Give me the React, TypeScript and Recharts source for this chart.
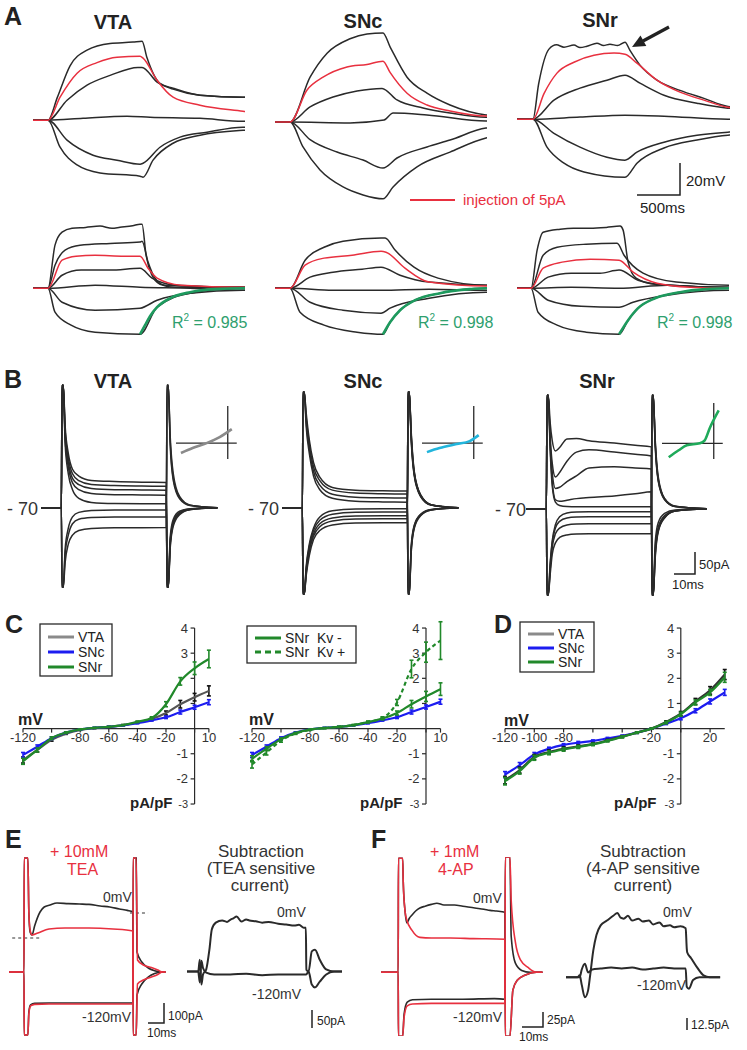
import React from 'react'
import { LineChart, Line, XAxis, YAxis, ReferenceLine, ReferenceDot, ErrorBar } from 'recharts'

const FONT = '"Liberation Sans", Arial, Helvetica, sans-serif'
const INK = '#2a2a2a'
const RED = '#e8303f'
const FIT = '#1e9a5e'
const FIT_TXT = '#2ea06e'
const BLUE = '#1c1cf0'
const GREEN = '#21892a'
const GREY = '#8a8a8a'
const VTA_LINE = '#555'

type Pair = [number, number]
const pts = (a: Pair[]) => a.map(([t, v]) => ({ t, v }))
const zip = (ts: number[], vs: number[]) => ts.map((t, i) => ({ t, v: vs[i] }))

// ---------- A: voltage responses (ms, mV from rest) ----------
const aVta1: Pair[] = [[-160,0],[0,0],[100,14.4],[234,34],[415,43.8],[660,48],[904,48.8],[1000,49.4],[1053,39],[1191,23],[1330,20],[1617,15.6],[2074,14.4],[2100,14.4]]
const aVtaRed: Pair[] = [[-160,0],[0,0],[128,14.4],[309,29.4],[521,36],[734,39.4],[979,40],[1011,38.8],[1160,25],[1330,14.4],[1617,9.4],[2074,5.6],[2100,5.4]]
const aVta3: Pair[] = [[-160,0],[0,0],[202,12.5],[415,21.9],[660,28],[957,33],[1000,33],[1160,23.8],[1330,19.4],[1617,15.6],[2074,14.4],[2100,14.4]]
const aVta4: Pair[] = [[-160,0],[0,0],[372,1.2],[840,2.5],[1085,1.9],[1617,1.2],[2074,-0.6],[2100,-0.6]]
const aVta5: Pair[] = [[-160,0],[0,0],[202,-12.5],[479,-21.9],[734,-25],[979,-27.5],[1011,-26.9],[1191,-16.9],[1404,-10.6],[1691,-7.5],[2074,-4.4],[2100,-4.4]]
const aVta6: Pair[] = [[-160,0],[0,0],[128,-16.9],[309,-28],[553,-33],[979,-35],[1011,-35.6],[1117,-25],[1330,-14.4],[1617,-9.4],[2074,-6.3],[2100,-6.2]]

const aSnc1: Pair[] = [[-160,0],[0,0],[213,28],[394,43],[638,52],[819,55],[989,55.6],[1064,47],[1245,28],[1457,18],[1702,10.6],[2085,4.4],[2100,4.3]]
const aSncRed: Pair[] = [[-160,0],[0,0],[181,20],[351,28],[606,34.4],[819,36],[989,38],[1064,31],[1245,18],[1457,10.6],[1702,6.9],[2085,3.8],[2100,3.8]]
const aSnc3: Pair[] = [[-160,0],[0,0],[213,9.4],[457,15.6],[713,19.4],[979,21],[1138,13.8],[1415,8.8],[1702,5.6],[2085,3],[2100,3]]
const aSnc4: Pair[] = [[-160,0],[0,0],[638,-0.6],[1000,1.2],[1096,5.6],[1457,4.4],[2085,0.6],[2100,0.6]]
const aSnc5: Pair[] = [[-160,0],[0,0],[213,-11],[500,-18.8],[777,-23.8],[989,-28.8],[1138,-22.5],[1457,-15.6],[1702,-11.3],[2085,-3.8],[2100,-3.7]]
const aSnc6: Pair[] = [[-160,0],[0,0],[138,-15.6],[319,-30],[564,-40.6],[777,-45.6],[989,-48],[1096,-40.6],[1351,-28],[1702,-18.8],[2085,-10],[2100,-9.8]]

const aSnr1: Pair[] = [[-170,0],[0,0],[60,22],[170,43.8],[250,46.5],[330,45],[436,46.3],[500,44.8],[574,45.6],[681,47.5],[750,46],[819,46.9],[900,46],[979,48.1],[1032,43],[1138,33.8],[1319,24.4],[1564,18],[1819,13],[2074,8],[2100,7.8]]
const aSnrRed: Pair[] = [[-170,0],[0,0],[117,16],[255,28.8],[436,35.6],[649,40],[862,41.3],[979,40.6],[1106,35],[1319,24.4],[1564,16.9],[1819,11.9],[2074,7.5],[2100,7.3]]
const aSnr3: Pair[] = [[-170,0],[0,0],[223,11.9],[500,19.4],[787,24.4],[979,27.5],[1138,22.5],[1394,15],[1745,10],[2074,6.9],[2100,6.8]]
const aSnr4: Pair[] = [[-170,0],[0,0],[500,1.3],[979,2.5],[1394,1.9],[2074,0],[2100,0]]
const aSnr5: Pair[] = [[-170,0],[0,0],[223,-8.8],[500,-17.5],[787,-23.8],[979,-25.6],[1106,-20.6],[1394,-14.4],[1745,-10],[2074,-8.1],[2100,-8]]
const aSnr6: Pair[] = [[-170,0],[0,0],[149,-17.5],[330,-27.5],[543,-33],[979,-36.3],[1106,-27.5],[1394,-18],[1745,-13],[2074,-10],[2100,-9.9]]

// A, second row with exponential fits
const bVta1: Pair[] = [[-160,0],[0,0],[74,26.9],[149,35],[255,37.5],[400,38],[553,38.8],[680,37.5],[766,38.1],[900,39],[979,40],[1000,40],[1043,20.6],[1106,8.1],[1191,2.5],[1351,0.6],[2074,0.6],[2100,0.6]]
const bVta2: Pair[] = [[-160,0],[0,0],[74,14.4],[181,23.8],[340,26.9],[660,28],[979,28.8],[1000,29.4],[1064,16.3],[1138,6.3],[1245,1.9],[2074,0.6],[2100,0.6]]
const bVtaRed: Pair[] = [[-160,0],[0,0],[149,17.5],[298,20],[500,20.6],[809,20],[979,20],[1064,12.5],[1160,6.3],[1415,1.9],[2074,0.6],[2100,0.6]]
const bVta4: Pair[] = [[-160,0],[0,0],[149,8.1],[351,11.3],[660,11.3],[979,12.5],[1106,6.3],[1362,1.9],[2074,0.6],[2100,0.6]]
const bVta5: Pair[] = [[-160,0],[0,0],[500,1.9],[979,0.6],[1511,0],[2074,-1.3],[2100,-1.3]]
const bVta6: Pair[] = [[-160,0],[0,0],[149,-8.8],[500,-13.8],[979,-12.5],[1160,-7.5],[1511,-3.1],[2074,-1.3],[2100,-1.3]]
const bVta7: Pair[] = [[-160,0],[0,0],[74,-15],[245,-23.1],[500,-27.5],[979,-28.8],[1160,-11.9],[1511,-3.1],[2074,0],[2100,0]]
const bVtaFit: Pair[] = [[979,-28.8],[1032,-23.1],[1085,-17.5],[1160,-11.9],[1298,-6.3],[1511,-2.5],[1777,-0.6],[2074,0],[2100,0]]

const bSnc1: Pair[] = [[-160,0],[0,0],[160,17.5],[362,25.6],[564,29.4],[968,31.3],[1011,31.3],[1117,23.8],[1319,13.1],[1574,6.3],[2085,1.9],[2100,1.9]]
const bSncRed: Pair[] = [[-160,0],[0,0],[160,14.4],[362,18.8],[660,20.6],[968,23.1],[1021,22.5],[1223,12.5],[1479,3.8],[2085,1.3],[2100,1.3]]
const bSnc3: Pair[] = [[-160,0],[0,0],[213,6.9],[457,10],[766,11.9],[968,13.1],[1170,8.1],[1479,3.8],[2085,1.9],[2100,1.9]]
const bSnc4: Pair[] = [[-160,0],[0,0],[457,-1.3],[968,-1.3],[1479,-0.6],[2085,-1.3],[2100,-1.3]]
const bSnc5: Pair[] = [[-160,0],[0,0],[213,-8.8],[564,-13.8],[968,-15.6],[1064,-12.5],[1479,-6.3],[2085,-2.5],[2100,-2.5]]
const bSnc6: Pair[] = [[-160,0],[0,0],[106,-15],[362,-23.1],[713,-27.5],[989,-28.8],[1064,-21.3],[1170,-13.8],[1330,-7.5],[1596,-3.1],[2085,0],[2100,0]]
const bSncFit: Pair[] = [[989,-28.8],[1064,-21.3],[1170,-13.8],[1330,-7.5],[1596,-3.1],[1915,-0.6],[2085,0],[2100,0]]

const bSnr1: Pair[] = [[-150,0],[0,0],[64,23.8],[128,35],[309,36.9],[450,37.5],[628,37.5],[800,38],[947,38.8],[979,36.3],[1032,16.3],[1117,6.3],[1319,2.5],[2106,0.6],[2110,0.6]]
const bSnr2: Pair[] = [[-150,0],[0,0],[128,20.6],[277,25.6],[585,27.5],[915,28.1],[989,20.6],[1191,9.4],[1543,3.8],[2106,1.9],[2110,1.9]]
const bSnrRed: Pair[] = [[-150,0],[0,0],[128,12.5],[330,16.3],[628,18.1],[936,17.5],[1085,10],[1340,3.1],[1691,0.6],[2106,0],[2110,0]]
const bSnr4: Pair[] = [[-150,0],[0,0],[181,6.9],[426,9.4],[734,9.4],[936,11.3],[1138,5],[1447,1.9],[2106,0.6],[2110,0.6]]
const bSnr5: Pair[] = [[-150,0],[0,0],[426,0.6],[936,0],[1447,1.9],[2106,0],[2110,0]]
const bSnr6: Pair[] = [[-150,0],[0,0],[181,-7.5],[532,-11.3],[936,-11.9],[1085,-8.8],[1447,-4.4],[2106,-1.3],[2110,-1.3]]
const bSnr7: Pair[] = [[-150,0],[0,0],[74,-15],[277,-23.1],[585,-27.5],[936,-28.8],[1032,-20],[1138,-12.5],[1319,-6.3],[1585,-2.5],[1851,-0.6],[2106,0],[2110,0]]
const bSnrFit: Pair[] = [[936,-28.8],[1032,-20],[1138,-12.5],[1319,-6.3],[1585,-2.5],[1851,-0.6],[2106,0],[2110,0]]

// ---------- B: current families (ms, pA from holding) ----------
const bT = [-10, -0.3, 0, 0.6, 1.5, 3, 5, 8, 14, 25, 38, 49.7, 50, 50.6, 51.5, 53, 56, 61, 74]
const vtaB1 = [0,0,54,54,36,24,17,14,12.1,11.6,11.3,11.2,-35,-35,-18,-8,-3,-0.8,0]
const vtaB2 = [0,0,54,54,34,22,15,12,10.3,9.8,9.6,9.5,-35,-35,-17,-7,-2.5,-0.7,0]
const vtaB3 = [0,0,54,54,32,20,13,10.2,8.5,8,7.9,7.8,-35,-35,-16,-6.5,-2.3,-0.6,0]
const vtaB4 = [0,0,54,54,30,18,11,8,6.3,5.8,5.7,5.6,-35,-35,-15,-6,-2,-0.5,0]
const vtaB5 = [0,0,54,54,28,15,8,4.2,2.4,1.9,1.8,1.8,-35,-35,-13,-5,-1.5,-0.4,0]
const vtaB6 = [0,0,-35,-35,-18,-9,-4,-2,-1.2,-0.9,-0.9,-0.9,54,54,28,12,4,1,0]
const vtaB7 = [0,0,-35,-35,-20,-12,-7,-5,-4.3,-4,-4,-4,54,54,30,13,4.5,1.1,0]
const vtaB8 = [0,0,-35,-35,-24,-16,-12,-10,-9.1,-8.8,-8.8,-8.7,54,54,32,15,5,1.2,0]

const sncB1 = [0,0,51,51,42,30,20,13.5,9,7.8,7.5,7.4,-38,-38,-20,-9,-3.5,-1,0]
const sncB2 = [0,0,51,51,40,28,18,12,7.8,6.5,6.2,6.1,-38,-38,-19,-8.5,-3.2,-0.9,0]
const sncB3 = [0,0,51,51,38,26,16,10,6,4.7,4.4,4.3,-38,-38,-18,-8,-3,-0.8,0]
const sncB4 = [0,0,51,51,36,24,14,8,4.2,2.9,2.6,2.5,-38,-38,-17,-7.5,-2.8,-0.7,0]
const sncB5 = [0,0,-38,-38,-26,-16,-9,-4,-1.3,-0.5,-0.4,-0.4,51,51,30,14,5,1.2,0]
const sncB6 = [0,0,-38,-38,-27,-17,-10,-5.5,-2.8,-1.9,-1.8,-1.8,51,51,31,14.5,5.2,1.3,0]
const sncB7 = [0,0,-38,-38,-28,-18,-11.5,-7,-4.5,-3.6,-3.5,-3.5,51,51,32,15,5.4,1.3,0]
const sncB8 = [0,0,-38,-38,-29,-19,-12.5,-8.3,-5.8,-4.9,-4.8,-4.8,51,51,33,15.5,5.6,1.4,0]
const sncB9 = [0,0,-38,-38,-30,-21,-14,-10,-7.6,-6.7,-6.6,-6.6,51,51,34,16,5.8,1.4,0]

const srT = [-10, -0.3, 0, 0.6, 1.5, 2.5, 4, 6, 9.5, 14, 20, 32, 42, 49.7, 50, 50.6, 51.5, 53, 56, 61, 76]
const srB1 = [0,0,50,50,38,30,25.5,27,30.8,31,30,29,28,27.3,-38,-38,-22,-10,-4,-1,0]
const srB2 = [0,0,50,50,32,20,14,16,21,25,26,25,24,23.3,-38,-38,-21,-9.5,-3.8,-1,0]
const srB3 = [0,0,50,50,30,16,9,9.5,12,14.5,18,18.5,18,17.6,-38,-38,-20,-9,-3.5,-0.9,0]
const srB4 = [0,0,50,50,28,12,4,3.3,3.8,4.5,5,5.7,6.6,7.5,-38,-38,-18,-8,-3,-0.8,0]
const srB5 = [0,0,50,50,26,10,3,1.5,1,0.9,0.9,0.9,0.9,0.9,-38,-38,-15,-6,-2,-0.5,0]
const srB6 = [0,0,-38,-38,-24,-14,-7,-3.5,-1.8,-1.4,-1.3,-1.3,-1.3,-1.3,50,50,28,12,4,1,0]
const srB7 = [0,0,-38,-38,-25,-15,-8.5,-5.5,-4,-3.6,-3.5,-3.5,-3.5,-3.5,50,50,29,12.5,4.2,1,0]
const srB8 = [0,0,-38,-38,-27,-17,-11,-8.5,-7.1,-6.7,-6.6,-6.6,-6.6,-6.6,50,50,30,13,4.4,1.1,0]
const srB9 = [0,0,-38,-38,-29,-20,-15,-12.6,-11.5,-11.1,-11,-11,-11,-11,50,50,31,14,4.6,1.2,0]

// B insets: I-V shape (mV, pA/pF)
const insVta: Pair[] = [[-104,-0.94],[-78,-0.47],[-47,0],[-18,0.57],[9,1.32]]
const insSnc: Pair[] = [[-104,-0.85],[-76,-0.47],[-38,-0.09],[-9,0.19],[11,0.75]]
const insSnr: Pair[] = [[-100,-1.32],[-78,-0.66],[-60,-0.19],[-31,0],[-20,0.28],[-9,1.42],[11,3.1]]

// ---------- C / D: I-V curves ----------
const cMv = [-120,-110,-100,-90,-80,-70,-60,-50,-40,-30,-20,-10,0,10]
const c1Vta = [-1.25,-0.85,-0.45,-0.2,-0.05,0.02,0.07,0.14,0.25,0.38,0.62,0.97,1.25,1.5]
const c1VtaErr = [0.12,0.08,0.05,0.03,0.02,0.02,0.02,0.02,0.03,0.05,0.08,0.15,0.15,0.2]
const c1Snc = [-1.05,-0.72,-0.38,-0.16,-0.03,0.03,0.07,0.13,0.22,0.33,0.45,0.66,0.85,1.05]
const c1SncErr = [0.1,0.07,0.05,0.03,0.02,0.02,0.02,0.02,0.03,0.03,0.05,0.08,0.08,0.1]
const c1Snr = [-1.3,-0.85,-0.38,-0.16,-0.03,0.03,0.07,0.14,0.27,0.42,0.97,1.88,2.4,2.77]
const c1SnrErr = [0.12,0.08,0.05,0.03,0.02,0.02,0.02,0.02,0.03,0.05,0.1,0.15,0.25,0.35]

const c2KvMinus = [-1.2,-0.8,-0.42,-0.18,-0.04,0.02,0.07,0.14,0.26,0.4,0.62,0.97,1.28,1.57]
const c2KvMinusErr = [0.12,0.08,0.05,0.03,0.02,0.02,0.02,0.02,0.03,0.05,0.08,0.15,0.2,0.25]
const c2KvPlus = [-1.42,-0.95,-0.48,-0.2,-0.05,0.02,0.07,0.14,0.27,0.42,1.04,2.37,3.04,3.5]
const c2KvPlusErr = [0.15,0.1,0.06,0.03,0.02,0.02,0.02,0.02,0.03,0.05,0.12,0.35,0.4,0.75]
const c2Snc = [-1.05,-0.72,-0.38,-0.16,-0.03,0.03,0.07,0.13,0.22,0.33,0.45,0.66,0.86,1.07]
const c2SncErr = [0.1,0.07,0.05,0.03,0.02,0.02,0.02,0.02,0.03,0.03,0.05,0.08,0.08,0.1]

const dMv = [-120,-110,-100,-90,-80,-70,-60,-50,-40,-30,-20,-10,0,10,20,30]
const dVta = [-2.05,-1.65,-1.13,-0.93,-0.8,-0.71,-0.61,-0.47,-0.32,-0.16,0,0.26,0.6,1.08,1.52,2.15]
const dVtaErr = [0.15,0.12,0.1,0.08,0.07,0.06,0.05,0.04,0.04,0.03,0.02,0.05,0.08,0.12,0.15,0.2]
const dSnc = [-1.83,-1.45,-1.03,-0.8,-0.65,-0.56,-0.49,-0.39,-0.29,-0.16,0,0.2,0.41,0.71,1.08,1.44]
const dSncErr = [0.12,0.1,0.08,0.06,0.05,0.05,0.04,0.04,0.03,0.03,0.02,0.04,0.06,0.08,0.1,0.12]
const dSnr = [-2.09,-1.69,-1.16,-0.96,-0.83,-0.73,-0.63,-0.49,-0.33,-0.16,0,0.24,0.57,1.04,1.44,2.04]
const dSnrErr = [0.15,0.12,0.1,0.08,0.07,0.06,0.05,0.04,0.04,0.03,0.02,0.05,0.08,0.1,0.12,0.2]

const cXTicks = [-120,-100,-80,-60,-40,-20,0,10]
const cXLabels = [-120,-80,-60,-40,-20,10]
const dXTicks = [-120,-100,-80,-60,-40,-20,0,20]
const dXLabels = [-120,-100,-80,-20,20]
const ivYTicks = [-3,-2,-1,1,2,3,4]

// ---------- E / F: drug traces (ms, pA) ----------
const eBlack0: Pair[] = [[-10,0],[-0.6,0],[-0.5,570],[1.8,570],[2.4,300],[3.2,200],[4.4,185],[6,230],[9.4,300],[12,325],[15.6,335],[20,345],[27,342],[34,340],[40,338],[47,330],[53,325],[59,315],[64,308],[67.5,300],[67.6,-315],[69.5,-315],[70,-115],[73,-60],[77,-25],[81,-8],[85,0],[88,0]]
const eRed0: Pair[] = [[-10,0],[-0.6,0],[-0.5,570],[1.8,570],[2.4,300],[3.2,210],[4.4,185],[8,195],[15,215],[25,220],[40,220],[55,215],[67.5,205],[67.6,-315],[69.5,-315],[70.3,-60],[74,-40],[79,-25],[83,-12],[86,0],[88,0]]
const eBlack120: Pair[] = [[-10,0],[-0.6,0],[-0.5,-315],[1.8,-315],[2.4,-200],[3.5,-165],[6,-157],[15,-155],[40,-155],[67.5,-155],[67.6,570],[69.5,570],[70,100],[73,50],[77,20],[81,6],[85,0],[88,0]]
const eRed120: Pair[] = [[-10,0],[-0.6,0],[-0.5,-315],[1.8,-315],[2.4,-210],[3.5,-170],[6,-162],[15,-160],[40,-160],[67.5,-160],[67.6,570],[69.5,570],[70.3,60],[74,35],[79,22],[83,10],[86,0],[88,0]]
const eSub0: Pair[] = [[-7,0],[-1,0],[0,0],[1,33],[2,-36],[3,-8],[5,6],[7,61],[8.5,117],[11,136],[15,142],[18,138],[20,144],[22,148],[24,153],[27,139],[30,145],[32,142],[36,140],[40,136],[44,138],[50,133],[55,131],[60,128],[63,130],[66,122],[67.3,122],[67.6,5],[69,0],[71,56],[73,61],[76,33],[80,6],[85,0],[90,0]]
const eSub120: Pair[] = [[-7,0],[0,0],[1,-30],[2,30],[3,10],[5,-3],[10,-8],[20,-8],[30,-6],[40,-10],[50,-8],[60,-8],[67.5,-8],[69,0],[71,-36],[73,-44],[76,-28],[80,-8],[85,0],[90,0]]

const fBlack0: Pair[] = [[-9,0],[-0.8,0],[-0.7,190],[1.3,190],[1.6,150],[2.5,100],[3.3,82],[4.5,90],[5.7,95],[7.5,102],[9.5,107],[12,110],[15,113],[17.6,115],[21,112],[26,112],[30,110],[35.7,107],[40,105],[42.9,103],[46,102],[50,100],[50.2,-107],[52.4,-107],[53.8,-30],[56,-13],[59.5,-5],[65,0],[68,0]]
const fRed0: Pair[] = [[-9,0],[-0.8,0],[-0.7,190],[1.3,190],[1.6,150],[2.5,100],[3.3,87],[5.7,70],[9.5,58],[15,57],[24,57],[35,56],[50,55],[50.2,-107],[52.4,-107],[53.8,-30],[56,-13],[59.5,-5],[65,0],[68,0]]
const fBlack120: Pair[] = [[-9,0],[-0.8,0],[-0.7,-107],[1.3,-107],[2,-70],[3.5,-50],[6,-46],[15,-45],[30,-45],[45,-44],[50,-45],[50.2,192],[52.4,192],[53,60],[55,15],[58,3],[62,0],[68,0]]
const fRed120: Pair[] = [[-9,0],[-0.8,0],[-0.7,-107],[1.3,-107],[2,-75],[3.5,-56],[6,-53],[15,-52],[30,-52],[45,-52],[50,-52],[50.2,192],[52.4,192],[53,120],[55,50],[57.5,20],[61,8],[65,0],[68,0]]
const fSub0: Pair[] = [[-6.5,0],[-1,0],[0,2],[1,-8],[2.5,-21],[4,-14],[5,2],[6.5,28],[8,44],[10,54],[13,59],[16,64],[18,67],[19.5,62],[21,61],[23,64],[25,59],[28,61],[30,58],[33,59],[35,55],[38,57],[40,53],[43,54],[45,52],[48,53],[50.5,51],[51,30],[51.2,26],[53,20],[56,10],[59,2],[62,0],[67,0]]
const fSub120: Pair[] = [[-6.5,0],[0,0],[1,8],[2.5,14],[4,5],[6,8],[10,9],[15,10],[20,9],[25,10],[30,8],[35,9],[40,10],[45,9],[50.5,9],[51,-10],[52,-12],[54,-3],[57,0],[62,0],[67,0]]

type Trace = { data: { t: number; v: number }[]; color: string; width?: number; dash?: string }
const tr = (d: Pair[], color = INK, width = 1.5): Trace => ({ data: pts(d), color, width })
const tz = (ts: number[], vs: number[], color = INK, width = 1.5): Trace => ({ data: zip(ts, vs), color, width })

function TraceBox(props: { x: number; y: number; w: number; h: number; xd: number[]; yd: number[]; traces: Trace[]; children?: React.ReactNode }) {
  const { x, y, w, h, xd, yd, traces, children } = props
  return (
    <div style={{ position: 'absolute', left: x, top: y }}>
      <LineChart width={w} height={h} margin={{ top: 0, right: 0, bottom: 0, left: 0 }}>
        <XAxis type="number" dataKey="t" domain={xd} hide allowDataOverflow />
        <YAxis type="number" domain={yd} hide allowDataOverflow />
        {children}
        {traces.map((s, i) => (
          <Line key={i} data={s.data} dataKey="v" type="monotone" stroke={s.color} strokeWidth={s.width ?? 1.5}
            strokeDasharray={s.dash} dot={false} activeDot={false} isAnimationActive={false} />
        ))}
      </LineChart>
    </div>
  )
}

function Inset(props: { x: number; y: number; h: number; yd: number[]; data: Pair[]; color: string }) {
  const { x, y, h, yd, data, color } = props
  return (
    <TraceBox x={x} y={y} w={60.75} h={h} xd={[-115, 20]} yd={yd} traces={[{ data: pts(data), color, width: 2.6 }]}>
      <ReferenceLine y={0} stroke={INK} strokeWidth={1.3} />
      <ReferenceLine x={0} stroke={INK} strokeWidth={1.3} />
    </TraceBox>
  )
}

const tickLabel = (v: number) => ({ value: String(v), fontSize: v === -3 ? 11 : 13, fill: '#333', fontFamily: FONT })

// plotLeft is the page x of -120 mV
function IVPlot(props: { plotLeft: number; k: number; xMax: number; rows: any[]; xTicks: number[]; xLabels: number[]; yLabels: number[]; children: React.ReactNode }) {
  const { plotLeft, k, xMax, rows, xTicks, xLabels, yLabels, children } = props
  const ml = 22
  const w = (xMax + 120) * k + ml + 8
  const tk = 4 / k
  return (
    <div style={{ position: 'absolute', left: plotLeft - ml, top: 620 }}>
      <LineChart width={w} height={192.07} data={rows} margin={{ top: 0.5, right: 8, bottom: 0.5, left: ml }}>
        <XAxis type="number" dataKey="mv" domain={[-120, xMax]} hide allowDataOverflow />
        <YAxis type="number" domain={[-3.3, 4.3]} hide allowDataOverflow />
        <ReferenceLine segment={[{ x: -120, y: 0 }, { x: xMax, y: 0 }]} stroke={INK} strokeWidth={1.2} />
        <ReferenceLine segment={[{ x: 0, y: -3 }, { x: 0, y: 4 }]} stroke={INK} strokeWidth={1.2} />
        {xTicks.map((t) => (
          <ReferenceLine key={'xt' + t} segment={[{ x: t, y: 0 }, { x: t, y: -0.16 }]} stroke={INK} strokeWidth={1.2} />
        ))}
        {ivYTicks.map((t) => (
          <ReferenceLine key={'yt' + t} segment={[{ x: 0, y: t }, { x: -tk, y: t }]} stroke={INK} strokeWidth={1.2} />
        ))}
        {xLabels.map((t) => (
          <ReferenceDot key={'xl' + t} x={t} y={0} r={0.5} fill="none" stroke="none"
            label={{ ...tickLabel(t), position: 'bottom', offset: 4 }} />
        ))}
        {yLabels.map((t) => (
          <ReferenceDot key={'yl' + t} x={0} y={t} r={0.5} fill="none" stroke="none"
            label={{ ...tickLabel(t), position: 'left', offset: 6 }} />
        ))}
        {children}
      </LineChart>
    </div>
  )
}

const ivLine = (key: string, color: string, errColor: string, dash?: string) => (
  <Line key={key} dataKey={key} type="monotone" stroke={color} strokeWidth={2.2} strokeDasharray={dash}
    dot={false} activeDot={false} isAnimationActive={false}>
    <ErrorBar dataKey={key + 'Err'} direction="y" width={2} stroke={errColor} strokeWidth={1.6} />
  </Line>
)

const c1Rows = cMv.map((mv, i) => ({ mv, vta: c1Vta[i], vtaErr: c1VtaErr[i], snc: c1Snc[i], sncErr: c1SncErr[i], snr: c1Snr[i], snrErr: c1SnrErr[i] }))
const c2Rows = cMv.map((mv, i) => ({ mv, snc: c2Snc[i], sncErr: c2SncErr[i], kvm: c2KvMinus[i], kvmErr: c2KvMinusErr[i], kvp: c2KvPlus[i], kvpErr: c2KvPlusErr[i] }))
const dRows = dMv.map((mv, i) => ({ mv, vta: dVta[i], vtaErr: dVtaErr[i], snc: dSnc[i], sncErr: dSncErr[i], snr: dSnr[i], snrErr: dSnrErr[i] }))

function Txt(p: { x: number; y: number; s: number; c?: string; b?: boolean; a?: 'start' | 'middle' | 'end'; children: React.ReactNode }) {
  return (
    <text x={p.x} y={p.y} fontSize={p.s} fill={p.c ?? '#222'} fontWeight={p.b ? 'bold' : 'normal'} textAnchor={p.a ?? 'start'}
      fontFamily={FONT} style={{ whiteSpace: 'pre' }}>{p.children}</text>
  )
}

function R2({ x, val }: { x: number; val: string }) {
  return (
    <text x={x} y={328} fontSize={16} fill={FIT_TXT} fontFamily={FONT} style={{ whiteSpace: 'pre' }}>
      R<tspan fontSize={10} dy={-7}>2</tspan><tspan dy={7}>{' = ' + val}</tspan>
    </text>
  )
}

function Legend3({ x, y, w, h, rows }: { x: number; y: number; w: number; h: number; rows: { label: string; color: string; dash?: string; cy: number }[] }) {
  return (
    <g>
      <rect x={x} y={y} width={w} height={h} fill="none" stroke={INK} strokeWidth={1.3} />
      {rows.map((r) => (
        <g key={r.label}>
          <line x1={x + 8} x2={x + 34} y1={r.cy} y2={r.cy} stroke={r.color} strokeWidth={3} strokeDasharray={r.dash} />
          <Txt x={x + 38} y={r.cy + 5} s={14}>{r.label}</Txt>
        </g>
      ))}
    </g>
  )
}

function Overlay() {
  return (
    <svg width={747} height={1050} style={{ position: 'absolute', left: 0, top: 0, pointerEvents: 'none' }}>
      {/* panel letters */}
      <Txt x={4} y={25} s={25} b>A</Txt>
      <Txt x={4} y={388} s={25} b>B</Txt>
      <Txt x={5} y={633} s={25} b>C</Txt>
      <Txt x={494} y={633} s={25} b>D</Txt>
      <Txt x={5} y={848} s={25} b>E</Txt>
      <Txt x={371} y={848} s={25} b>F</Txt>
      {/* titles */}
      <Txt x={113} y={29} s={20} b a="middle">VTA</Txt>
      <Txt x={363} y={28} s={20} b a="middle">SNc</Txt>
      <Txt x={600} y={27} s={20} b a="middle">SNr</Txt>
      <Txt x={113} y={388} s={20} b a="middle">VTA</Txt>
      <Txt x={363} y={388} s={20} b a="middle">SNc</Txt>
      <Txt x={597} y={388} s={20} b a="middle">SNr</Txt>
      {/* A annotations */}
      <line x1={669} y1={27} x2={643} y2={41} stroke="#222" strokeWidth={3.2} />
      <polygon points="632,47 640.5,35.5 646.3,46.1" fill="#222" />
      <path d="M637 195 H680 V163" fill="none" stroke="#222" strokeWidth={1.5} />
      <Txt x={686} y={186} s={15}>20mV</Txt>
      <Txt x={640} y={213} s={15}>500ms</Txt>
      <line x1={410} x2={455} y1={200} y2={200} stroke={RED} strokeWidth={2} />
      <Txt x={463} y={205} s={15} c={RED}>injection of 5pA</Txt>
      <R2 x={172} val="0.985" />
      <R2 x={418} val="0.998" />
      <R2 x={657} val="0.998" />
      {/* B */}
      <Txt x={7} y={515} s={18} c="#333">- 70</Txt>
      <Txt x={248} y={515} s={18} c="#333">- 70</Txt>
      <Txt x={495} y={516} s={18} c="#333">- 70</Txt>
      <path d="M674 574 H695 V552" fill="none" stroke="#222" strokeWidth={1.5} />
      <Txt x={699} y={569} s={13}>50pA</Txt>
      <Txt x={672} y={589} s={13}>10ms</Txt>
      {/* C / D */}
      <Legend3 x={40} y={624} w={72} h={52} rows={[{ label: 'VTA', color: GREY, cy: 637 }, { label: 'SNc', color: BLUE, cy: 652 }, { label: 'SNr', color: GREEN, cy: 667 }]} />
      <Legend3 x={247} y={626} w={109} h={37} rows={[{ label: 'SNr  Kv -', color: GREEN, cy: 638 }, { label: 'SNr  Kv +', color: GREEN, dash: '6 4', cy: 652 }]} />
      <Legend3 x={520} y={622} w={74} h={50} rows={[{ label: 'VTA', color: GREY, cy: 634 }, { label: 'SNc', color: BLUE, cy: 648 }, { label: 'SNr', color: GREEN, cy: 662 }]} />
      <Txt x={18} y={725} s={16} b>mV</Txt>
      <Txt x={249} y={725} s={16} b>mV</Txt>
      <Txt x={504} y={726} s={16} b>mV</Txt>
      <Txt x={130} y={808} s={15} b>pA/pF</Txt>
      <Txt x={360} y={808} s={15} b>pA/pF</Txt>
      <Txt x={614} y={808} s={15} b>pA/pF</Txt>
      {/* E */}
      <Txt x={50} y={857} s={16} c={RED}>+ 10mM</Txt>
      <Txt x={67} y={875} s={16} c={RED}>TEA</Txt>
      <Txt x={261} y={857} s={17} c="#333" a="middle">Subtraction</Txt>
      <Txt x={261} y={874} s={17} c="#333" a="middle">(TEA sensitive</Txt>
      <Txt x={260} y={891} s={17} c="#333" a="middle">current)</Txt>
      <Txt x={103} y={902} s={14} c="#333">0mV</Txt>
      <Txt x={82} y={1022} s={14} c="#333">-120mV</Txt>
      <path d="M148 1023 H164 V1003" fill="none" stroke="#222" strokeWidth={1.5} />
      <Txt x={168} y={1020} s={12}>100pA</Txt>
      <Txt x={147} y={1037} s={12}>10ms</Txt>
      <Txt x={277} y={917} s={14} c="#333">0mV</Txt>
      <Txt x={252} y={999} s={14} c="#333">-120mV</Txt>
      <line x1={312} x2={312} y1={1010} y2={1028} stroke="#222" strokeWidth={1.5} />
      <Txt x={317} y={1025} s={12}>50pA</Txt>
      {/* F */}
      <Txt x={430} y={857} s={16} c={RED}>+ 1mM</Txt>
      <Txt x={438} y={875} s={16} c={RED}>4-AP</Txt>
      <Txt x={643} y={857} s={17} c="#333" a="middle">Subtraction</Txt>
      <Txt x={643} y={874} s={17} c="#333" a="middle">(4-AP sensitive</Txt>
      <Txt x={643} y={891} s={17} c="#333" a="middle">current)</Txt>
      <Txt x={473} y={903} s={14} c="#333">0mV</Txt>
      <Txt x={453} y={1022} s={14} c="#333">-120mV</Txt>
      <path d="M522 1027 H543 V1012" fill="none" stroke="#222" strokeWidth={1.5} />
      <Txt x={547} y={1024} s={12}>25pA</Txt>
      <Txt x={519} y={1041} s={12}>10ms</Txt>
      <Txt x={663} y={917} s={14} c="#333">0mV</Txt>
      <Txt x={637} y={990} s={14} c="#333">-120mV</Txt>
      <line x1={687} x2={687} y1={1018} y2={1030} stroke="#222" strokeWidth={1.5} />
      <Txt x={691} y={1029} s={12}>12.5pA</Txt>
    </svg>
  )
}

export default function App() {
  return (
    <div style={{ position: 'absolute', left: 0, top: 0, width: 747, height: 1050, background: '#fff', overflow: 'hidden', fontFamily: FONT }}>
      {/* A top row */}
      <TraceBox x={32.96} y={36.8} w={212.44} h={147.2} xd={[-160, 2100]} yd={[-40, 52]}
        traces={[tr(aVta1), tr(aVta3), tr(aVta4), tr(aVta5), tr(aVta6), tr(aVtaRed, RED)]} />
      <TraceBox x={274.96} y={26} w={212.44} h={179.2} xd={[-160, 2100]} yd={[-52, 60]}
        traces={[tr(aSnc1), tr(aSnc3), tr(aSnc4), tr(aSnc5), tr(aSnc6), tr(aSncRed, RED)]} />
      <TraceBox x={517.02} y={35.8} w={213.38} h={147.2} xd={[-170, 2100]} yd={[-40, 52]}
        traces={[tr(aSnr1), tr(aSnr3), tr(aSnr4), tr(aSnr5), tr(aSnr6), tr(aSnrRed, RED)]} />
      {/* A bottom row */}
      <TraceBox x={32.96} y={220.8} w={212.44} h={115.2} xd={[-160, 2100]} yd={[-30, 42]}
        traces={[tr(bVta1), tr(bVta2), tr(bVta4), tr(bVta5), tr(bVta6), tr(bVta7), tr(bVtaRed, RED), tr(bVtaFit, FIT, 2.6)]} />
      <TraceBox x={274.96} y={220.8} w={212.44} h={115.2} xd={[-160, 2100]} yd={[-30, 42]}
        traces={[tr(bSnc1), tr(bSnc3), tr(bSnc4), tr(bSnc5), tr(bSnc6), tr(bSncRed, RED), tr(bSncFit, FIT, 2.6)]} />
      <TraceBox x={516.9} y={220.8} w={212.44} h={115.2} xd={[-150, 2110]} yd={[-30, 42]}
        traces={[tr(bSnr1), tr(bSnr2), tr(bSnr4), tr(bSnr5), tr(bSnr6), tr(bSnr7), tr(bSnrRed, RED), tr(bSnrFit, FIT, 2.6)]} />
      {/* B */}
      <TraceBox x={41} y={383.15} w={189} h={215.65} xd={[-10, 80]} yd={[-40, 55]}
        traces={[vtaB1, vtaB2, vtaB3, vtaB4, vtaB5, vtaB6, vtaB7, vtaB8].map((v) => tz(bT, v, INK, 1.5))} />
      <TraceBox x={282} y={383.15} w={189} h={215.65} xd={[-10, 80]} yd={[-40, 55]}
        traces={[sncB1, sncB2, sncB3, sncB4, sncB5, sncB6, sncB7, sncB8, sncB9].map((v) => tz(bT, v, INK, 1.5))} />
      <TraceBox x={526} y={384.15} w={189} h={215.65} xd={[-10, 80]} yd={[-40, 55]}
        traces={[srB1, srB2, srB3, srB4, srB5, srB6, srB7, srB8, srB9].map((v) => tz(srT, v, INK, 1.5))} />
      <Inset x={176.25} y={405.9} h={53} yd={[-1.5, 3.5]} data={insVta} color={GREY} />
      <Inset x={422.25} y={405.9} h={53} yd={[-1.5, 3.5]} data={insSnc} color="#22b5dc" />
      <Inset x={662.25} y={402.7} h={56.2} yd={[-1.5, 3.8]} data={insSnr} color="#1faa5a" />
      {/* C / D */}
      <IVPlot plotLeft={23.4} k={1.43} xMax={10} rows={c1Rows} xTicks={cXTicks} xLabels={cXLabels} yLabels={[4, 3, -1, -2, -3]}>
        {[ivLine('vta', VTA_LINE, '#111'), ivLine('snc', BLUE, BLUE), ivLine('snr', GREEN, GREEN)]}
      </IVPlot>
      <IVPlot plotLeft={252} k={1.45} xMax={10} rows={c2Rows} xTicks={cXTicks} xLabels={cXLabels} yLabels={[4, 3, 2, -1, -2, -3]}>
        {[ivLine('snc', BLUE, BLUE), ivLine('kvm', GREEN, GREEN), ivLine('kvp', GREEN, GREEN, '4 3')]}
      </IVPlot>
      <IVPlot plotLeft={505.2} k={1.465} xMax={30} rows={dRows} xTicks={dXTicks} xLabels={dXLabels} yLabels={[4, 3, 2, 1, -1, -2, -3]}>
        {[ivLine('snc', BLUE, BLUE), ivLine('vta', '#333', '#111'), ivLine('snr', GREEN, GREEN)]}
      </IVPlot>
      {/* E */}
      <TraceBox x={9} y={856} w={156.8} h={180} xd={[-10, 88]} yd={[-320, 580]}
        traces={[tr(eBlack0, INK, 1.6), tr(eBlack120, INK, 1.6), tr(eRed0, RED, 1.6), tr(eRed120, RED, 1.6)]}>
        <ReferenceLine segment={[{ x: -8, y: 170 }, { x: 9.4, y: 170 }]} stroke="#333" strokeDasharray="3 3" strokeWidth={1.2} />
        <ReferenceLine segment={[{ x: 65.6, y: 295 }, { x: 76.9, y: 295 }]} stroke="#333" strokeDasharray="3 3" strokeWidth={1.2} />
      </TraceBox>
      <TraceBox x={186.8} y={914.4} w={155.2} h={79.2} xd={[-7, 90]} yd={[-60, 160]}
        traces={[tr(eSub120, INK, 2), tr(eSub0, INK, 2)]} />
      {/* F */}
      <TraceBox x={381.1} y={856.8} w={161.7} h={179.4} xd={[-9, 68]} yd={[-107, 192]}
        traces={[tr(fBlack0, INK, 1.6), tr(fBlack120, INK, 1.6), tr(fRed0, RED, 1.6), tr(fRed120, RED, 1.6)]} />
      <TraceBox x={566.35} y={909.8} w={154.35} h={90.24} xd={[-6.5, 67]} yd={[-24, 70]}
        traces={[tr(fSub120, INK, 2), tr(fSub0, INK, 2)]} />
      <Overlay />
    </div>
  )
}
